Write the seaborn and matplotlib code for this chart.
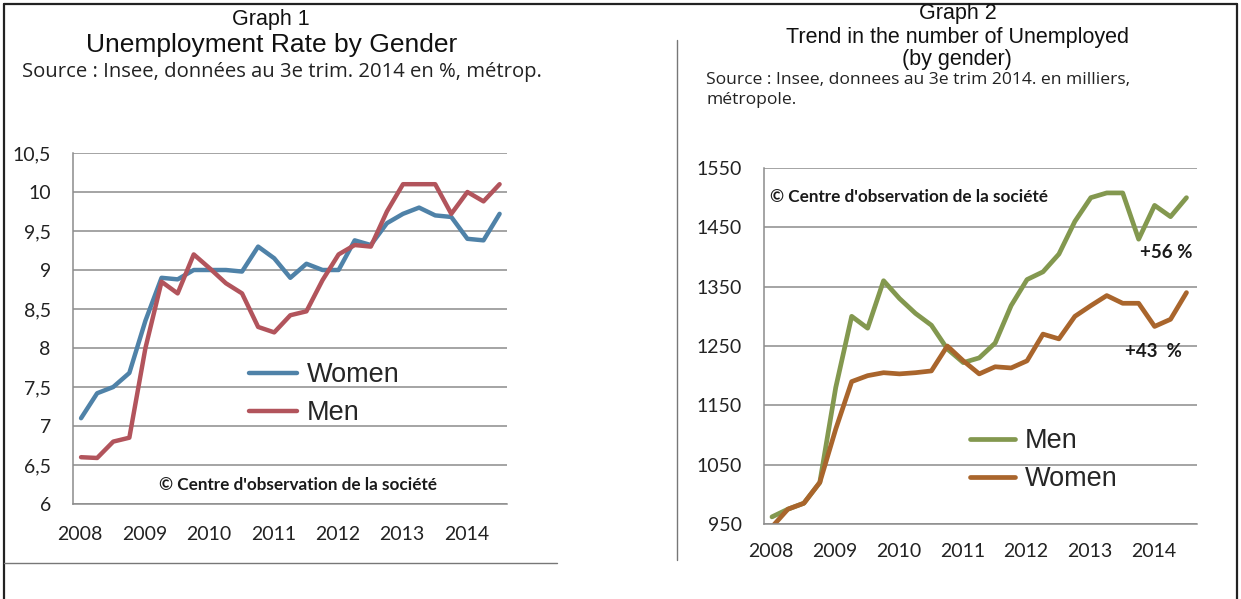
import numpy as np
import pandas as pd
import matplotlib
matplotlib.use("Agg")
import matplotlib.pyplot as plt
import seaborn as sns
from matplotlib.lines import Line2D

# ---------------- data ----------------
quarters = pd.period_range("2008Q1", "2014Q3", freq="Q")

women_rate = [7.1, 7.42, 7.5, 7.68, 8.35, 8.9, 8.88, 9.0, 9.0, 9.0,
              8.98, 9.3, 9.15, 8.9, 9.08, 9.0, 9.0, 9.38, 9.32, 9.6,
              9.72, 9.8, 9.7, 9.68, 9.4, 9.38, 9.72]
men_rate = [6.6, 6.59, 6.8, 6.85, 8.0, 8.85, 8.7, 9.2, 9.02, 8.83,
            8.7, 8.27, 8.2, 8.42, 8.47, 8.87, 9.2, 9.32, 9.3, 9.75,
            10.1, 10.1, 10.1, 9.72, 10.0, 9.88, 10.1]

men_count = [962, 975, 985, 1020, 1180, 1300, 1280, 1360, 1330, 1305,
             1285, 1245, 1222, 1230, 1255, 1318, 1362, 1375, 1405, 1460,
             1500, 1508, 1508, 1430, 1487, 1468, 1500]
women_count = [945, 975, 985, 1020, 1110, 1190, 1200, 1205, 1203, 1205,
               1208, 1250, 1225, 1203, 1215, 1213, 1225, 1270, 1262, 1300,
               1318, 1335, 1322, 1322, 1283, 1295, 1340]

year_labels = ["2008", "2009", "2010", "2011", "2012", "2013", "2014"]
rate_ticks = [6, 6.5, 7, 7.5, 8, 8.5, 9, 9.5, 10, 10.5]
rate_tick_labels = ["6", "6,5", "7", "7,5", "8", "8,5", "9", "9,5", "10", "10,5"]
count_ticks = [950, 1050, 1150, 1250, 1350, 1450, 1550]

# mid-quarter decimal year
xq = np.array([p.year + (p.quarter - 1) * 0.25 + 0.125 for p in quarters])
years = np.array([int(y) for y in year_labels])

df1 = pd.DataFrame({"t": xq, "Women": women_rate, "Men": men_rate})
df2 = pd.DataFrame({"t": xq, "Men": men_count, "Women": women_count})

# ---------------- style ----------------
sns.set_style("white")
plt.rcParams["font.family"] = ["Lato", "DejaVu Sans"]

W, H = 1241, 599
fig = plt.figure(figsize=(W / 100, H / 100), dpi=100)
fig.patch.set_facecolor("white")

GRID = "#8c8c8c"
C_W1 = "#4f82a8"
C_M1 = "#b2545c"
C_M2 = "#83984f"
C_W2 = "#a9652c"
ARIAL = ["Liberation Sans", "DejaVu Sans"]
OPEN = ["Open Sans", "DejaVu Sans"]


def fx(px):
    return px / W


def fy(py):
    return 1 - py / H


def style_axis(ax, xmax, xsize, ysize, xpad):
    for s in ["top", "right"]:
        ax.spines[s].set_visible(False)
    for s in ["left", "bottom"]:
        ax.spines[s].set_color(GRID)
        ax.spines[s].set_linewidth(1.1)
    ax.yaxis.grid(True, color=GRID, lw=1.1)
    ax.xaxis.grid(False)
    ax.set_axisbelow(True)
    ax.set_xlim(2008, xmax)
    ax.set_xticks(years)
    ax.set_xticklabels([])
    ax.set_xticks(years + 0.11, minor=True)
    ax.set_xticklabels(year_labels, minor=True, fontsize=xsize, color="#222222")
    ax.tick_params(axis="x", which="major", direction="out", length=5, width=1.1, color=GRID)
    ax.tick_params(axis="x", which="minor", length=0, pad=xpad)
    ax.tick_params(axis="y", direction="out", length=6, width=1.1, color=GRID,
                   pad=10, labelsize=ysize, labelcolor="#222222")
    ax.set_xlabel("")
    ax.set_ylabel("")


# ---------------- Graph 1 ----------------
ax1 = fig.add_axes([fx(73), fy(504), fx(507) - fx(73), fy(153) - fy(504)])
sns.lineplot(data=df1, x="t", y="Women", ax=ax1, color=C_W1, lw=3.2, label="Women", legend=False)
sns.lineplot(data=df1, x="t", y="Men", ax=ax1, color=C_M1, lw=3.2, label="Men", legend=False)
ax1.set_ylim(6, 10.5)
ax1.set_yticks(rate_ticks)
ax1.set_yticklabels(rate_tick_labels)
style_axis(ax1, 2014.74, 14, 14, 16)
h1 = ax1.get_lines()[:2]
ax1.legend(h1, ["Women", "Men"], loc="center left", bbox_to_anchor=(0.405, 0.313),
           frameon=False, handlelength=1.78, handletextpad=0.37,
           labelspacing=0.45, borderpad=0, borderaxespad=0,
           prop={"family": ARIAL, "size": 19.5})
ax1.text(0.518, 0.054, "\u00a9 Centre d'observation de la soci\u00e9t\u00e9",
         transform=ax1.transAxes, ha="center", va="center", fontsize=12.3, fontweight="bold",
         color="#1a1a1a")

fig.text(fx(271), fy(19), "Graph 1", ha="center", va="center", fontsize=15.5,
         family=ARIAL, color="#111111")
fig.text(fx(272), fy(45), "Unemployment Rate by Gender", ha="center", va="center", fontsize=19,
         family=ARIAL, color="#111111")
fig.text(fx(22), fy(72), "Source : Insee, donn\u00e9es au 3e trim. 2014 en %, m\u00e9trop.",
         ha="left", va="center", fontsize=14.6, family=OPEN, color="#222222")

# ---------------- Graph 2 ----------------
ax2 = fig.add_axes([fx(764), fy(524), fx(1197) - fx(764), fy(168) - fy(524)])
sns.lineplot(data=df2, x="t", y="Men", ax=ax2, color=C_M2, lw=3.4, label="Men", legend=False)
sns.lineplot(data=df2, x="t", y="Women", ax=ax2, color=C_W2, lw=3.4, label="Women", legend=False)
ax2.set_ylim(950, 1550)
ax2.set_yticks(count_ticks)
ax2.set_yticklabels([str(v) for v in count_ticks])
style_axis(ax2, 2014.79, 14, 14, 14)
h2 = ax2.get_lines()[:2]
ax2.legend(h2, ["Men", "Women"], loc="center left", bbox_to_anchor=(0.476, 0.179),
           frameon=False, handlelength=1.66, handletextpad=0.37,
           labelspacing=0.45, borderpad=0, borderaxespad=0,
           prop={"family": ARIAL, "size": 19.5})
ax2.text(0.014, 0.918, "\u00a9 Centre d'observation de la soci\u00e9t\u00e9",
         transform=ax2.transAxes, ha="left", va="center", fontsize=12.3, fontweight="bold",
         color="#1a1a1a")
ax2.text(2014.30, 1407, "+56 %", ha="center", va="center", fontsize=13.5, fontweight="bold",
         color="#1a1a1a")
ax2.text(2014.11, 1240, "+43  %", ha="center", va="center", fontsize=13.5, fontweight="bold",
         color="#1a1a1a")

fig.text(fx(958), fy(14), "Graph 2", ha="center", va="center", fontsize=15.5,
         family=ARIAL, color="#111111")
fig.text(fx(957), fy(37), "Trend in the number of Unemployed", ha="center", va="center",
         fontsize=15.5, family=ARIAL, color="#111111")
fig.text(fx(957), fy(59), "(by gender)", ha="center", va="center", fontsize=15.5,
         family=ARIAL, color="#111111")
fig.text(fx(706), fy(80), "Source : Insee, donnees au 3e trim 2014. en milliers,",
         ha="left", va="center", fontsize=12.6, family=OPEN, color="#222222")
fig.text(fx(706), fy(100), "m\u00e9tropole.", ha="left", va="center", fontsize=12.6,
         family=OPEN, color="#222222")

# ---------------- frame lines ----------------
frame = dict(color="#222222", lw=1.6)
fig.add_artist(Line2D([fx(4), fx(1237)], [fy(4), fy(4)], **frame))
fig.add_artist(Line2D([fx(4), fx(4)], [fy(4), 0], **frame))
fig.add_artist(Line2D([fx(1237), fx(1237)], [fy(4), 0], **frame))
fig.add_artist(Line2D([fx(4), fx(557)], [fy(563), fy(563)], color="#777777", lw=1.0))
fig.add_artist(Line2D([fx(677), fx(677)], [fy(40), fy(560)], color="#777777", lw=1.0))

fig.savefig("out.png", dpi=100)
